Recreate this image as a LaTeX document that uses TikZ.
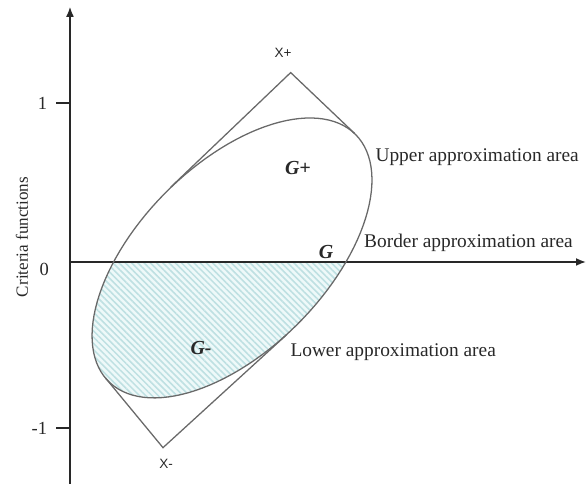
\documentclass[tikz,border=0pt]{standalone}
\usepackage{fontspec}
\setmainfont{Liberation Serif}
\newfontfamily\vertexfont{Liberation Sans}
\usetikzlibrary{arrows.meta,patterns.meta}

\begin{document}
\begin{tikzpicture}[x=4cm,y=4cm,font=\fontsize{13}{15}\selectfont]
  \definecolor{ink}{RGB}{40,40,40}
  \definecolor{edgegray}{RGB}{105,105,105}
  \definecolor{wash}{RGB}{238,249,249}
  \definecolor{stripe}{RGB}{190,224,226}
  \tikzset{
    axis/.style={ink, line width=1.1pt, -{Latex[length=7pt,width=5.5pt]}},
    outline/.style={edgegray, line width=0.9pt},
    setname/.style={ink, font=\fontsize{14}{16}\selectfont\bfseries\itshape},
    vertex/.style={ink, font=\vertexfont\fontsize{9.5}{11}\selectfont},
    area/.style={ink, anchor=west, font=\fontsize{13.6}{16}\selectfont}
  }
  \useasboundingbox (-0.432,-1.389) rectangle (3.191,1.617);

  % lower half of the set, hatched
  \begin{scope}
    \clip (0,0) rectangle (2.5,-1.3);
    \path[fill=wash, postaction={pattern={Lines[angle=-45,distance=3.1pt,line width=1.1pt]}, pattern color=stripe}]
      plot[domain=0:360, samples=120] ({1.0+0.7071*(1.078*cos(\x)-0.575*sin(\x))}, {0.025+0.7071*(1.078*cos(\x)+0.575*sin(\x))}) -- cycle;
  \end{scope}

  \coordinate (o) at (0,0);
  \coordinate (ytop) at (0,1.575);
  \coordinate (ybot) at (0,-1.37);
  \coordinate (xend) at (3.185,0);
  \draw[axis] (ybot) -- (ytop);
  \draw[axis] (o) -- (xend);

  \foreach \y/\lab in {0.981/1,-1.025/-1} {
    \draw[ink, line width=0.9pt] (-0.086,\y) -- (0,\y);
    \node[ink, anchor=east] (tick\lab) at (-0.11,\y) {\lab};
  }
  \node[ink, anchor=east] (tick0) at (-0.10,-0.045) {0};
  \node[ink, rotate=90, font=\fontsize{12}{14}\selectfont] (ylabel) at (-0.296,0.154) {Criteria functions};

  % the set and its bounding box corners
  \draw[outline] plot[domain=0:360, samples=120] ({1.0+0.7071*(1.078*cos(\x)-0.575*sin(\x))}, {0.025+0.7071*(1.078*cos(\x)+0.575*sin(\x))}) -- cycle;

  \coordinate (xp) at (1.362,1.169);
  \coordinate (xm) at (0.574,-1.146);
  \coordinate (xpa) at (0.623,0.463);
  \coordinate (xpb) at (1.757,0.793);
  \coordinate (xma) at (0.219,-0.716);
  \coordinate (xmb) at (1.338,-0.448);
  \draw[outline] (xpa) -- (xp) -- (xpb);
  \draw[outline] (xma) -- (xm) -- (xmb);

  \node[vertex] (xplus) at (1.315,1.290) {X+};
  \node[vertex] (xminus) at (0.593,-1.247) {X-};

  \node[setname] (gplus) at (1.407,0.580) {G+};
  \node[setname] (gzero) at (1.580,0.062) {G};
  \node[setname] (gminus) at (0.809,-0.531) {G-};

  \node[area] (upper) at (1.855,0.648) {Upper approximation area};
  \node[area] (border) at (1.785,0.117) {Border approximation area};
  \node[area] (lower) at (1.330,-0.556) {Lower approximation area};
\end{tikzpicture}
\end{document}
